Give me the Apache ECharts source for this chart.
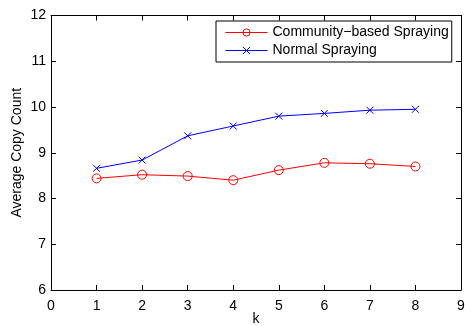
<!DOCTYPE html>
<html><head><meta charset="utf-8">
<script src="https://cdn.jsdelivr.net/npm/echarts@6/dist/echarts.min.js"></script>
<style>html,body{margin:0;padding:0;background:#fff}#c{width:465px;height:326px}</style>
</head><body><div id="c"></div>
<script>
const kValues = [1, 2, 3, 4, 5, 6, 7, 8];
const communitySpraying = [8.44, 8.52, 8.49, 8.40, 8.62, 8.78, 8.76, 8.70];
const normalSpraying = [8.66, 8.84, 9.37, 9.585, 9.80, 9.86, 9.93, 9.95];
const seriesNames = ['Community\u2212based Spraying', 'Normal Spraying'];
const xTicks = [0, 1, 2, 3, 4, 5, 6, 7, 8, 9];
const yTicks = [6, 7, 8, 9, 10, 11, 12];

const font = 'Liberation Sans, Arial, Helvetica, sans-serif';
const chart = echarts.init(document.getElementById('c'), null, {renderer: 'canvas'});
const axBase = {
  axisLine: {show: true, onZero: false, lineStyle: {color: '#000', width: 1}},
  axisTick: {show: true, inside: true, length: 5, lineStyle: {color: '#000', width: 1}},
  splitLine: {show: false}
};
chart.setOption({
  animation: false,
  backgroundColor: '#fff',
  grid: {left: 51, right: 4, top: 15.5, bottom: 36, containLabel: false, outerBoundsMode: 'none'},
  legend: {
    orient: 'vertical', left: 216, top: 21,
    data: seriesNames,
    backgroundColor: '#fff', borderColor: '#000', borderWidth: 1,
    padding: [4, 3, 4, 9], itemGap: 3,
    itemWidth: 42, itemHeight: 9,
    lineStyle: {width: 1},
    itemStyle: {borderWidth: 1},
    textStyle: {fontFamily: font, fontSize: 14, color: '#000', lineHeight: 15}
  },
  xAxis: [
    Object.assign({}, axBase, {
      type: 'value', min: 0, max: 9, interval: 1, position: 'bottom',
      name: 'k', nameLocation: 'middle', nameGap: 22, nameMoveOverlap: false,
      nameTextStyle: {fontFamily: font, fontSize: 14, color: '#000'},
      axisLabel: {margin: 9, fontFamily: font, fontSize: 14, color: '#000',
        formatter: v => xTicks.includes(v) ? String(v) : ''}
    }),
    Object.assign({}, axBase, {
      type: 'value', min: 0, max: 9, interval: 1, position: 'top',
      axisLabel: {show: false}
    })
  ],
  yAxis: [
    Object.assign({}, axBase, {
      type: 'value', min: 6, max: 12, interval: 1, position: 'left',
      name: 'Average Copy Count', nameLocation: 'middle', nameGap: 27, nameMoveOverlap: false,
      nameTextStyle: {fontFamily: font, fontSize: 14, color: '#000'},
      axisLabel: {margin: 5, fontFamily: font, fontSize: 14, color: '#000',
        formatter: v => yTicks.includes(v) ? String(v) : ''}
    }),
    Object.assign({}, axBase, {
      type: 'value', min: 6, max: 12, interval: 1, position: 'right',
      axisLabel: {show: false}
    })
  ],
  series: [
    {
      name: seriesNames[0], type: 'line',
      data: kValues.map((k, i) => [k, communitySpraying[i]]),
      symbol: 'circle', symbolSize: 9,
      lineStyle: {color: '#ff0000', width: 1},
      itemStyle: {color: 'rgba(255,255,255,0)', borderColor: '#ff0000', borderWidth: 1}
    },
    {
      name: seriesNames[1], type: 'line',
      data: kValues.map((k, i) => [k, normalSpraying[i]]),
      symbol: 'path://M0,0L10,10M10,0L0,10', symbolSize: 7,
      lineStyle: {color: '#0000ff', width: 1},
      itemStyle: {color: 'rgba(255,255,255,0)', borderColor: '#0000ff', borderWidth: 1}
    }
  ]
});
</script></body></html>
